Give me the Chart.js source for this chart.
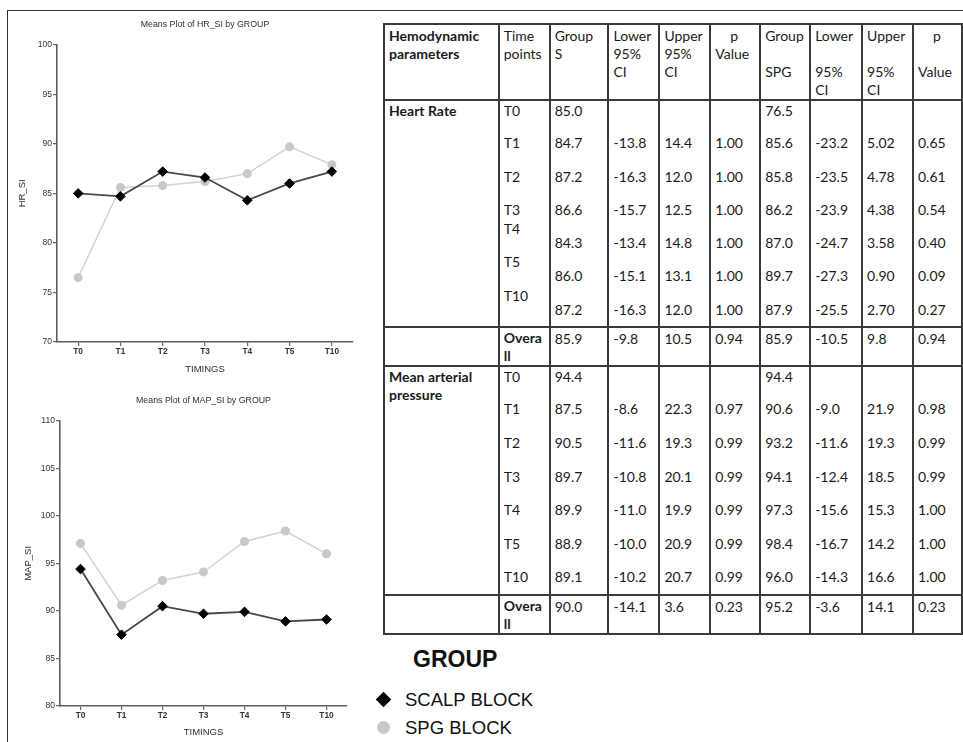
<!DOCTYPE html>
<html>
<head>
<meta charset="utf-8">
<script src="https://cdn.jsdelivr.net/npm/chart.js@4.4.1/dist/chart.umd.min.js"></script>
<style>
  html, body { margin: 0; padding: 0; background: #fff; }
  body { width: 963px; height: 742px; position: relative; overflow: hidden; font-family: "Liberation Sans", Arial, sans-serif; }
  .frame { position: absolute; left: 7px; top: 10px; width: 960px; height: 740px; border-top: 1.5px solid #333; border-left: 1.5px solid #333; }
  .box { position: absolute; left: 8px; }
  #hrBox { top: 11px; }
  #mapBox { top: 380px; }

  #tbl { position: absolute; left: 383px; top: 23px; border-collapse: collapse; table-layout: fixed;
         font-family: Lato, "Open Sans", sans-serif; font-size: 14px; line-height: 18px; color: #1a1a1a; }
  #tbl td, #tbl th { border-left: 2px solid #3a3a3a; border-right: 2px solid #3a3a3a; padding: 1px 2px 0 4px;
                     vertical-align: top; text-align: left; font-weight: normal; white-space: nowrap; }
  #tbl th { border-top: 2px solid #3a3a3a; border-bottom: 2px solid #3a3a3a; padding-top: 2px; }
  #tbl th.b, #tbl td.b { font-weight: bold; }
  #tbl tr.top td { border-top: 2px solid #3a3a3a; }
  #tbl tr.bot td, #tbl td.name { border-bottom: 2px solid #3a3a3a; }
  #tbl td.name { white-space: normal; }
  #tbl .pc { text-align: center; width: 38px; }
  #tbl .up { position: relative; top: -14px; }

  #legend { position: absolute; left: 372px; top: 640px; }
  .lg-title { position: absolute; left: 41px; top: 6px; font: bold 23px "Liberation Sans", Arial, sans-serif; color: #111; white-space: nowrap; }
  .lg-item { position: absolute; left: 33px; font: 18.5px "Liberation Sans", Arial, sans-serif; color: #111; white-space: nowrap; line-height: 22px; }
  .mk { position: absolute; left: -28px; top: 5px; }
  .mk.diamond { width: 11px; height: 11px; background: #000; transform: rotate(45deg); left: -27px; }
  .mk.dot { width: 13px; height: 13px; border-radius: 50%; background: #c8c8c8; left: -28px; top: 4px; }
</style>
</head>
<body>
<div class="frame"></div>
<div class="box" id="hrBox"><canvas id="hrChart" width="355" height="367"></canvas></div>
<div class="box" id="mapBox"><canvas id="mapChart" width="355" height="362"></canvas></div>
<table id="tbl"></table>
<div id="legend"></div>

<script>
// ---- chart data ----
const timings = ["T0", "T1", "T2", "T3", "T4", "T5", "T10"];
const groups = ["SCALP BLOCK", "SPG BLOCK"];

const hrScalp = [85.0, 84.7, 87.2, 86.6, 84.3, 86.0, 87.2];
const hrSpg = [76.5, 85.6, 85.8, 86.2, 87.0, 89.7, 87.9];
const hrTicks = [70, 75, 80, 85, 90, 95, 100];

const mapScalp = [94.4, 87.5, 90.5, 89.7, 89.9, 88.9, 89.1];
const mapSpg = [97.1, 90.6, 93.2, 94.1, 97.3, 98.4, 96.0];
const mapTicks = [80, 85, 90, 95, 100, 105, 110];

// ---- table data ----
const headerLines = [
  ["Hemodynamic", "parameters"], ["Time", "points"], ["Group", "S"], ["Lower", "95%", "CI"],
  ["Upper", "95%", "CI"], ["p", "Value"], ["Group", "", "SPG"], ["Lower", "", "95%", "CI"],
  ["Upper", "", "95%", "CI"], ["p", "", "Value"]
];

const hrGroupS   = ["85.0", "84.7", "87.2", "86.6", "84.3", "86.0", "87.2"];
const hrLowerS   = ["", "-13.8", "-16.3", "-15.7", "-13.4", "-15.1", "-16.3"];
const hrUpperS   = ["", "14.4", "12.0", "12.5", "14.8", "13.1", "12.0"];
const hrPS       = ["", "1.00", "1.00", "1.00", "1.00", "1.00", "1.00"];
const hrGroupSpg = ["76.5", "85.6", "85.8", "86.2", "87.0", "89.7", "87.9"];
const hrLowerSpg = ["", "-23.2", "-23.5", "-23.9", "-24.7", "-27.3", "-25.5"];
const hrUpperSpg = ["", "5.02", "4.78", "4.38", "3.58", "0.90", "2.70"];
const hrPSpg     = ["", "0.65", "0.61", "0.54", "0.40", "0.09", "0.27"];
const hrOverall  = ["85.9", "-9.8", "10.5", "0.94", "85.9", "-10.5", "9.8", "0.94"];

const mapGroupS   = ["94.4", "87.5", "90.5", "89.7", "89.9", "88.9", "89.1"];
const mapLowerS   = ["", "-8.6", "-11.6", "-10.8", "-11.0", "-10.0", "-10.2"];
const mapUpperS   = ["", "22.3", "19.3", "20.1", "19.9", "20.9", "20.7"];
const mapPS       = ["", "0.97", "0.99", "0.99", "0.99", "0.99", "0.99"];
const mapGroupSpg = ["94.4", "90.6", "93.2", "94.1", "97.3", "98.4", "96.0"];
const mapLowerSpg = ["", "-9.0", "-11.6", "-12.4", "-15.6", "-16.7", "-14.3"];
const mapUpperSpg = ["", "21.9", "19.3", "18.5", "15.3", "14.2", "16.6"];
const mapPSpg     = ["", "0.98", "0.99", "0.99", "1.00", "1.00", "1.00"];
const mapOverall  = ["90.0", "-14.1", "3.6", "0.23", "95.2", "-3.6", "14.1", "0.23"];

// ---- build the table ----
const colWidths = [115, 51, 59, 51, 51, 50, 50, 52, 51, 49];

function headCell(lines, i) {
  const inner = lines.map((l) => {
    const isP = l === "p";
    return `<div${isP ? ' class="pc"' : ""}>${l || "&nbsp;"}</div>`;
  }).join("");
  return `<th${i === 0 ? ' class="b"' : ""}>${inner}</th>`;
}

function block(name, cols, overall, rowH, lastH, shifted) {
  let out = "";
  for (let i = 0; i < timings.length; i++) {
    const cls = i === 0 ? "top" : "";
    const h = i === timings.length - 1 ? lastH : rowH;
    out += `<tr class="${cls}" style="height:${h}px">`;
    if (i === 0) out += `<td class="name b" rowspan="${timings.length}">${name}</td>`;
    const t = shifted.includes(timings[i]) ? `<span class="up">${timings[i]}</span>` : timings[i];
    out += `<td>${t}</td>`;
    cols.forEach(c => { out += `<td>${c[i]}</td>`; });
    out += "</tr>";
  }
  out += `<tr class="top bot" style="height:39px"><td></td><td class="b">Overa<br>ll</td>`;
  overall.forEach(v => { out += `<td style="padding-top:2px">${v}</td>`; });
  out += "</tr>";
  return out;
}

let html = "<colgroup>" + colWidths.map(w => `<col style="width:${w}px">`).join("") + "</colgroup>";
html += "<tr style='height:74px'>" + headerLines.map(headCell).join("") + "</tr>";
html += block("Heart Rate",
  [hrGroupS, hrLowerS, hrUpperS, hrPS, hrGroupSpg, hrLowerSpg, hrUpperSpg, hrPSpg],
  hrOverall, 33.3, 27, ["T4", "T5", "T10"]);
html += block("Mean arterial pressure",
  [mapGroupS, mapLowerS, mapUpperS, mapPS, mapGroupSpg, mapLowerSpg, mapUpperSpg, mapPSpg],
  mapOverall, 33.6, 28, []);
document.getElementById("tbl").innerHTML = html;

// ---- legend ----
const legendMarks = ["diamond", "dot"];
let lg = `<div class="lg-title">GROUP</div>`;
groups.forEach((g, i) => {
  lg += `<div class="lg-item" style="top:${49 + i * 28}px"><span class="mk ${legendMarks[i]}"></span>${g}</div>`;
});
document.getElementById("legend").innerHTML = lg;

// ---- charts ----
Chart.defaults.font.family = "'Liberation Sans', Arial, sans-serif";
Chart.defaults.color = "#333";

function meansPlot(canvasId, title, yTitle, scalp, spg, ticks, lay) {
  const ctx = document.getElementById(canvasId).getContext("2d");
  return new Chart(ctx, {
    type: "line",
    data: {
      labels: timings,
      datasets: [
        {
          label: groups[0],
          data: scalp,
          borderColor: "#474747",
          borderWidth: 1.8,
          pointStyle: "rectRot",
          pointRadius: 4.8,
          pointBackgroundColor: "#000",
          pointBorderColor: "#000",
          pointBorderWidth: 1,
          tension: 0,
        },
        {
          label: groups[1],
          data: spg,
          borderColor: "#d2d2d2",
          borderWidth: 1.4,
          pointStyle: "circle",
          pointRadius: 3.8,
          pointBackgroundColor: "#c8c8c8",
          pointBorderColor: "#c8c8c8",
          tension: 0,
        },
      ],
    },
    options: {
      responsive: false,
      animation: false,
      devicePixelRatio: 1,
      layout: { padding: { top: 0, left: 0, bottom: 0, right: lay.padRight } },
      plugins: {
        legend: { display: false },
        tooltip: { enabled: false },
        title: {
          display: true,
          text: title,
          fullSize: false,
          color: "#2e2e2e",
          font: { size: 8.8, weight: "normal" },
          padding: { top: lay.titleTop, bottom: lay.titleBottom },
        },
      },
      scales: {
        x: {
          type: "category",
          offset: true,
          grid: { drawOnChartArea: false, drawTicks: true, tickLength: 4, color: "#666", lineWidth: 1.2 },
          border: { color: "#5e5e5e", width: 1.6 },
          ticks: { color: "#333", font: { size: 8.3, weight: "bold" }, padding: 1, maxRotation: 0, autoSkip: false },
          title: { display: true, text: "TIMINGS", color: "#2e2e2e", font: { size: 9.5 }, padding: { top: 0, bottom: lay.xTitleBottom } },
          afterFit: (s) => { s.height = 36; },
        },
        y: {
          min: ticks[0],
          max: ticks[ticks.length - 1],
          afterBuildTicks: (s) => { s.ticks = ticks.map((v) => ({ value: v })); },
          grid: { drawOnChartArea: false, drawTicks: true, tickLength: 4, color: "#666", lineWidth: 1.2 },
          border: { color: "#5e5e5e", width: 1.6 },
          ticks: { color: "#333", font: { size: 8.6 }, padding: 1 },
          title: { display: true, text: yTitle, color: "#2e2e2e", font: { size: 9.5 }, padding: { top: lay.yTitleTop, bottom: 0 } },
          afterFit: (s) => { s.width = lay.yWidth; },
        },
      },
    },
  });
}

meansPlot("hrChart", "Means Plot of HR_SI by GROUP", "HR_SI", hrScalp, hrSpg, hrTicks,
  { padRight: 10, titleTop: 8.6, titleBottom: 14.6, yWidth: 49, yTitleTop: 9, xTitleBottom: 3.4 });
meansPlot("mapChart", "Means Plot of MAP_SI by GROUP", "MAP_SI", mapScalp, mapSpg, mapTicks,
  { padRight: 16, titleTop: 15.6, titleBottom: 14.6, yWidth: 52, yTitleTop: 14.4, xTitleBottom: 4.4 });
</script>
</body>
</html>
